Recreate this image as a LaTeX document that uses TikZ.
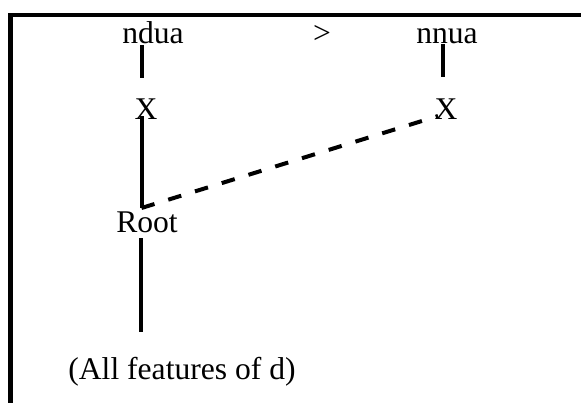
\documentclass[tikz,border=0pt]{standalone}
\usepackage{fontspec}
\setmainfont{Liberation Serif}
\usepackage{tikz}
\usetikzlibrary{positioning, calc}

\begin{document}
\begin{tikzpicture}[
  x=0.5pt, y=-0.5pt,
  lbl/.style={inner sep=0pt, anchor=base, font=\fontsize{15.8}{19}\selectfont},
  branch/.style={line width=2pt, draw=black},
  link/.style={line width=2pt, draw=black, dash pattern=on 6.8pt off 7.2pt},
  frame/.style={line width=2.2pt, draw=black}
]
\useasboundingbox (0,0) rectangle (581,403);
% frame
\draw[frame] (581,15) -- (10.5,15) -- (10.5,403);
% top row
\node[lbl] (ndua) at (153,43) {ndua};
\node[lbl] (gt) at (322,43) {>};
\node[lbl] (nnua) at (447,43) {nnua};
% tree
\node[lbl] (xl) at (146,119) {X};
\node[lbl] (xr) at (446,119) {X};
\node[lbl] (root) at (147,232) {Root};
\node[lbl] (feats) at (182,379) {(All features of d)};
% lines
\draw[branch] ([shift={(-11,2)}]ndua.base) -- ([shift={(-11,35)}]ndua.base);
\draw[branch] ([shift={(-4.5,1)}]nnua.base) -- ([shift={(-4.5,34)}]nnua.base);
\draw[branch] ([shift={(-4.5,-3)}]xl.base) -- ([shift={(-5.5,-24)}]root.base);
\draw[link] ([shift={(-5.5,-24)}]root.base) -- ([shift={(-8,-3)}]xr.base);
\draw[branch] ([shift={(-6,6)}]root.base) -- ([shift={(-41,-47)}]feats.base);
\end{tikzpicture}
\end{document}
